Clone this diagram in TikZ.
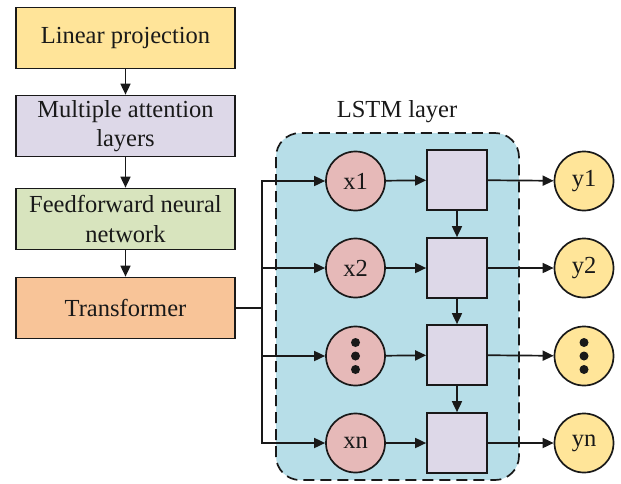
\documentclass[tikz,border=0pt]{standalone}
\usepackage{fontspec}
\setmainfont{Liberation Serif}
\usetikzlibrary{arrows.meta}

\definecolor{cLinear}{RGB}{255,228,153}
\definecolor{cAttn}{RGB}{221,216,232}
\definecolor{cFeed}{RGB}{216,228,190}
\definecolor{cTrans}{RGB}{248,196,152}
\definecolor{cLstm}{RGB}{183,222,232}
\definecolor{cIn}{RGB}{230,185,184}
\definecolor{cOut}{RGB}{255,229,153}
\definecolor{cLine}{RGB}{25,25,25}

\tikzset{
  txt/.style={font=\fontsize{24.5}{29.5}\selectfont, text=cLine},
  stage/.style={txt, draw=cLine, line width=1.7pt, minimum width=219pt,
    minimum height=61pt, align=center, inner sep=0pt},
  unit/.style={txt, circle, draw=cLine, line width=1.7pt, minimum size=59pt, inner sep=0pt},
  cell/.style={draw=cLine, line width=1.7pt, fill=cAttn, minimum size=60pt, inner sep=0pt},
  link/.style={draw=cLine, line width=1.7pt},
  arrow/.style={link, -{Triangle[length=11pt,width=10pt]}},
  dotmark/.style={fill=cLine, circle, inner sep=0pt, minimum size=9pt}
}

\begin{document}
\begin{tikzpicture}[x=1pt, y=-1pt]
  \useasboundingbox (0,0) rectangle (621,483);

  % LSTM container
  \draw[cLine, line width=1.7pt, dash pattern=on 11pt off 6pt, fill=cLstm,
        rounded corners=24pt] (276,133) rectangle (519,480);
  \node[txt] (lstmlabel) at (397,112) {LSTM layer};

  % encoder stages
  \node[stage, fill=cLinear] (lin)   at (125.5,38)  {Linear projection};
  \node[stage, fill=cAttn]   (attn)  at (125.5,126) {Multiple attention\\layers};
  \node[stage, fill=cFeed]   (feed)  at (125.5,219) {Feedforward neural\\network};
  \node[stage, fill=cTrans]  (trans) at (125.5,308) {Transformer};

  \draw[arrow] (lin) -- (attn);
  \draw[arrow] (attn) -- (feed);
  \draw[arrow] (feed) -- (trans);

  % inputs
  \node[unit, fill=cIn] (x1) at (355.5,181) {x1};
  \node[unit, fill=cIn] (x2) at (355.5,268) {x2};
  \node[unit, fill=cIn] (x3) at (355.5,356) {};
  \node[unit, fill=cIn] (xn) at (355.5,443) {xn};

  % LSTM cells
  \node[cell] (c1) at (457,180) {};
  \node[cell] (c2) at (457,268) {};
  \node[cell] (c3) at (457,355) {};
  \node[cell] (cn) at (457,443) {};

  % outputs
  \node[unit, fill=cOut] (y1) at (584,181) {y1};
  \node[unit, fill=cOut] (y2) at (584,268) {y2};
  \node[unit, fill=cOut] (y3) at (584,356) {};
  \node[unit, fill=cOut] (yn) at (584,443) {yn};

  % vertical ellipsis marks
  \foreach \n in {x3, y3} {
    \node[dotmark] at ([yshift=-13.5pt]\n.center) {};
    \node[dotmark] at (\n.center) {};
    \node[dotmark] at ([yshift=13.5pt]\n.center) {};
  }

  % distribution bus from the transformer
  \coordinate (bus) at (262,308);
  \draw[link] (trans.east) -- (bus);
  \draw[arrow] (bus) -- (bus |- x1) -- (x1);
  \draw[arrow] (bus) -- (bus |- xn) -- (xn);
  \draw[arrow] (bus |- x2) -- (x2);
  \draw[arrow] (bus |- x3) -- (x3);

  % inputs to cells, cells to outputs
  \foreach \i/\c/\o in {x1/c1/y1, x2/c2/y2, x3/c3/y3, xn/cn/yn} {
    \draw[arrow] (\i) -- (\c);
    \draw[arrow] (\c) -- (\o);
  }

  % recurrent links
  \draw[arrow] (c1) -- (c2);
  \draw[arrow] (c2) -- (c3);
  \draw[arrow] (c3) -- (cn);
\end{tikzpicture}
\end{document}
